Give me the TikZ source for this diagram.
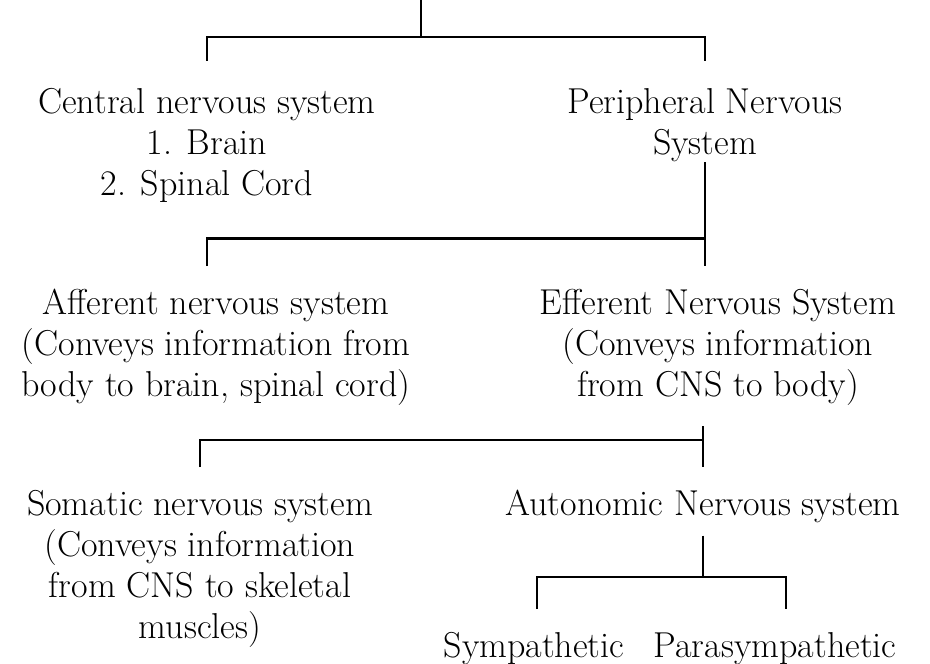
\documentclass[tikz,border=0pt]{standalone}
\usepackage{fontspec}
\usetikzlibrary{positioning}
\tikzset{
  branch/.style={line width=1.45pt},
  sysbox/.style={anchor=north, align=center, inner sep=0pt, font=\fontsize{18}{20.5}\selectfont}
}

\begin{document}
\begin{tikzpicture}[x=0.5pt, y=-0.5pt]
  \useasboundingbox (0,0) rectangle (930,663);
  % nervous system split
  \node[sysbox] (cns) at (207,88) {Central nervous system\\1. Brain\\2. Spinal Cord};
  \node[sysbox] (pns) at (705,88) {Peripheral Nervous\\System};
  % peripheral split
  \node[sysbox] (aff) at (216,289) {Afferent nervous system\\(Conveys information from\\body to brain, spinal cord)};
  \node[sysbox] (eff) at (718,289) {Efferent Nervous System\\(Conveys information\\from CNS to body)};
  % efferent split
  \node[sysbox] (som) at (200,490) {Somatic nervous system\\(Conveys information\\from CNS to skeletal\\muscles)};
  \node[sysbox] (ans) at (703,490) {Autonomic Nervous system};
  % autonomic split
  \node[sysbox] (sym) at (534,632) {Sympathetic};
  \node[sysbox] (para) at (775,632) {Parasympathetic};

  % junctions
  \coordinate (root) at (421,0);
  \coordinate (j1) at (421,37);
  \coordinate (j2) at ([yshift=-38pt]pns.south);
  \coordinate (j3) at ([yshift=25pt]ans.north);
  \coordinate (j4) at ([yshift=27.5pt]sym.north -| ans.south);

  \draw[branch] (root) -- (j1);
  \draw[branch] ([yshift=13.5pt]cns.north) |- (j1) -| ([yshift=13.5pt]pns.north);

  \draw[branch] (pns.south) -- ([yshift=11.5pt]eff.north -| pns.south);
  \draw[branch] ([yshift=11.5pt]aff.north -| cns.south) |- (j2);

  \draw[branch] ([yshift=-10pt]eff.south -| ans.north) -- ([yshift=11.5pt]ans.north);
  \draw[branch] ([yshift=11.5pt]som.north) |- (j3);

  \draw[branch] ([yshift=-6pt]ans.south) -- (j4);
  \draw[branch] ([xshift=1.5pt, yshift=11.5pt]sym.north) |- (j4) -| ([xshift=5.5pt, yshift=11.5pt]para.north);
\end{tikzpicture}
\end{document}
